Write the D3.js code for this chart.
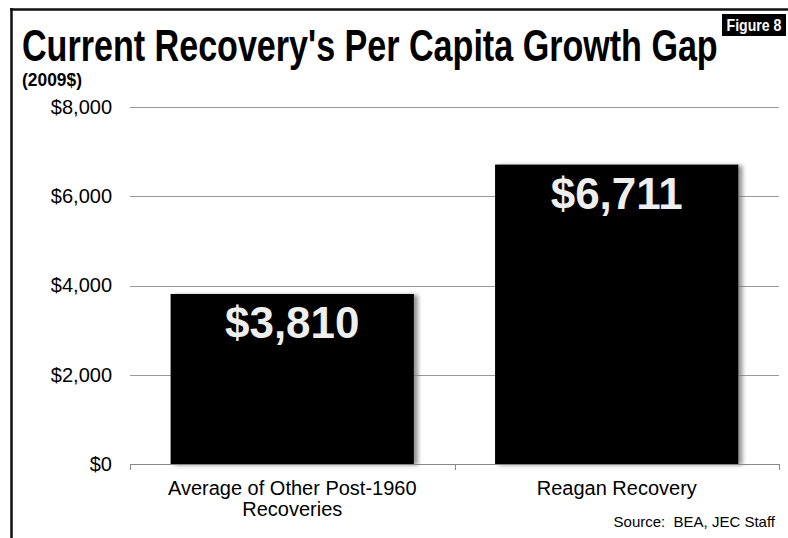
<!DOCTYPE html>
<html>
<head>
<meta charset="utf-8">
<script src="https://cdn.jsdelivr.net/npm/d3@7/dist/d3.min.js"></script>
<style>
  html, body { margin: 0; padding: 0; background: #fff; }
  svg { display: block; }
</style>
</head>
<body>
<svg id="chart" width="788" height="538"></svg>
<script>
// Per capita growth during recoveries (2009 dollars)
const categories = [["Average of Other Post-1960", "Recoveries"], ["Reagan Recovery"]];
const values = [3810, 6711];
const valueLabels = ["$3,810", "$6,711"];
const yTicks = [0, 2000, 4000, 6000, 8000];
const yTickLabels = ["$0", "$2,000", "$4,000", "$6,000", "$8,000"];

const svg = d3.select("#chart");
const W = 788, H = 538;
const margin = { left: 130, right: 9, top: 107, bottom: 74 };
const plotW = W - margin.left - margin.right;
const plotH = H - margin.top - margin.bottom;
const narrowFont = "'Liberation Sans Narrow', 'Arial Narrow', 'Liberation Sans', Arial, sans-serif";

// condensed text: draw at natural width, then squeeze horizontally to a target width
function condensedText(parent, x, y, size, width, str, fill, anchor) {
  const t = parent.append("text")
    .attr("font-family", narrowFont).attr("font-weight", "bold")
    .attr("font-size", size).attr("fill", fill).text(str);
  const w = t.node().getComputedTextLength();
  const k = Math.min(1, width / w);
  const x0 = anchor === "middle" ? x - (w * k) / 2 : x;
  t.attr("transform", `translate(${x0},${y}) scale(${k},1)`);
  return t;
}

const defs = svg.append("defs");
const shadow = defs.append("filter").attr("id", "barShadow")
  .attr("x", "-10%").attr("y", "-10%").attr("width", "130%").attr("height", "130%");
shadow.append("feDropShadow").attr("dx", 4).attr("dy", 1)
  .attr("stdDeviation", 2).attr("flood-color", "#777").attr("flood-opacity", 0.8);

// frame lines
svg.append("line").attr("x1", 11.5).attr("x2", 11.5).attr("y1", 8).attr("y2", H)
  .attr("stroke", "#111").attr("stroke-width", 2.5);
svg.append("line").attr("x1", 10).attr("x2", W).attr("y1", 9.5).attr("y2", 9.5)
  .attr("stroke", "#111").attr("stroke-width", 2.5);

// title and unit note
condensedText(svg, 22, 61, 45, 696, "Current Recovery's Per Capita Growth Gap", "#000", "start");
condensedText(svg, 22, 85.5, 19, 60, "(2009$)", "#000", "start");

// figure badge
svg.append("rect").attr("x", 722).attr("y", 14).attr("width", 64).attr("height", 22).attr("fill", "#000");
condensedText(svg, 754, 31, 16, 55, "Figure 8", "#fff", "middle");

const g = svg.append("g").attr("transform", `translate(${margin.left},${margin.top})`);

const x = d3.scaleBand().domain(d3.range(values.length)).range([0, plotW])
  .paddingInner(0.25).paddingOuter(0.125);
const xOuter = d3.scaleBand().domain(d3.range(values.length)).range([0, plotW]);
const y = d3.scaleLinear().domain([0, 8000]).range([plotH, 0]);

// gridlines
g.append("g").selectAll("line").data(yTicks.slice(1)).join("line")
  .attr("x1", 0).attr("x2", plotW)
  .attr("y1", d => Math.round(y(d)) + 0.5).attr("y2", d => Math.round(y(d)) + 0.5)
  .attr("stroke", "#999").attr("stroke-width", 1);

// y axis labels
const yAxis = d3.axisLeft(y).tickValues(yTicks).tickSize(0).tickPadding(18)
  .tickFormat((d, i) => yTickLabels[i]);
const yG = g.append("g").call(yAxis);
yG.select(".domain").remove();
yG.selectAll("text").attr("font-family", "'Liberation Sans', Arial, sans-serif")
  .attr("font-size", 20).attr("fill", "#000");

// bars
g.append("g").selectAll("rect").data(values).join("rect")
  .attr("x", (d, i) => x(i)).attr("width", x.bandwidth())
  .attr("y", d => y(d)).attr("height", d => plotH - y(d))
  .attr("fill", "#000").attr("filter", "url(#barShadow)");

// value labels
g.append("g").selectAll("text").data(values).join("text")
  .attr("x", (d, i) => x(i) + x.bandwidth() / 2)
  .attr("y", d => y(d) + 44)
  .attr("text-anchor", "middle")
  .attr("font-family", "'Liberation Sans', Arial, sans-serif")
  .attr("font-weight", "bold").attr("font-size", 44).attr("fill", "#eeeeee")
  .text((d, i) => valueLabels[i]);

// x axis
const xAxis = d3.axisBottom(xOuter).tickSize(0).tickFormat("");
const xG = g.append("g").attr("transform", `translate(0,${plotH})`).call(xAxis);
xG.select(".domain").remove();
g.append("line").attr("x1", 0).attr("x2", plotW)
  .attr("y1", plotH + 0.5).attr("y2", plotH + 0.5).attr("stroke", "#888");
const edges = [0].concat(d3.range(values.length).map(i => xOuter(i) + xOuter.bandwidth()));
g.append("g").selectAll("line").data(edges).join("line")
  .attr("x1", d => Math.round(d) + 0.5).attr("x2", d => Math.round(d) + 0.5)
  .attr("y1", plotH).attr("y2", plotH + 6).attr("stroke", "#888");

// category labels
const cat = g.append("g").selectAll("text").data(categories).join("text")
  .attr("x", (d, i) => xOuter(i) + xOuter.bandwidth() / 2)
  .attr("y", plotH + 31)
  .attr("text-anchor", "middle")
  .attr("font-family", "'Liberation Sans', Arial, sans-serif")
  .attr("font-size", 20).attr("fill", "#000");
cat.selectAll("tspan").data(d => d).join("tspan")
  .attr("x", function () { return d3.select(this.parentNode).attr("x"); })
  .attr("dy", (d, i) => i === 0 ? 0 : 21)
  .text(d => d);

// source note
svg.append("text").attr("x", 775).attr("y", 527).attr("text-anchor", "end")
  .attr("font-family", "'Liberation Sans', Arial, sans-serif")
  .attr("font-size", 15).attr("fill", "#000")
  .attr("xml:space", "preserve")
  .text("Source:  BEA, JEC Staff");
</script>
</body>
</html>
